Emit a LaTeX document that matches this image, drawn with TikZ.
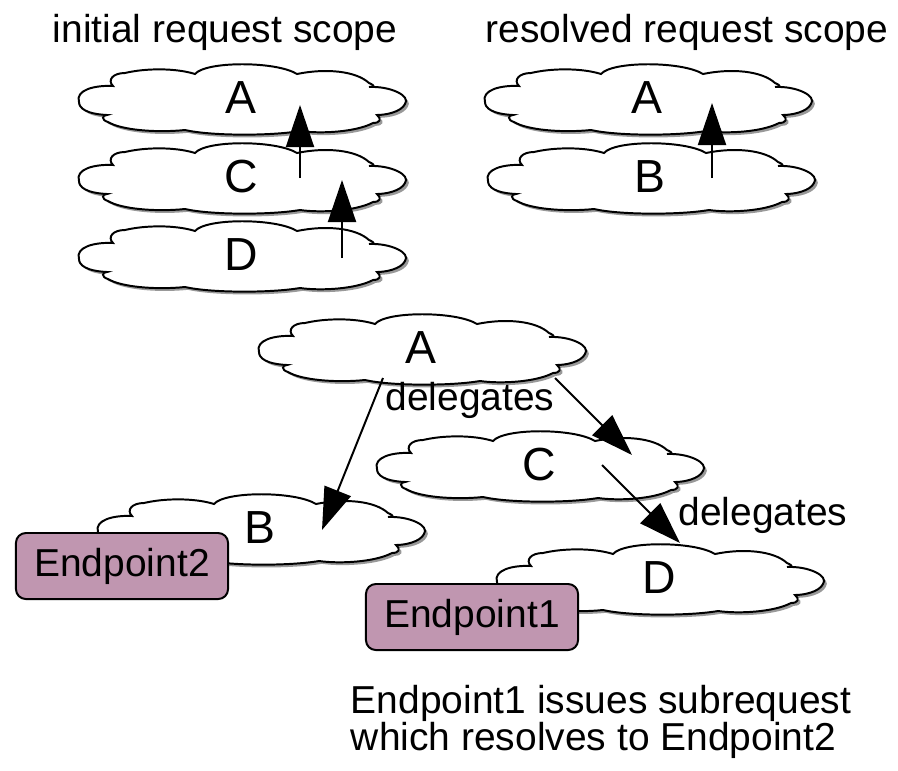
\documentclass[tikz,border=0pt]{standalone}
\usepackage{fontspec}
\setmainfont{Liberation Sans}
\usetikzlibrary{shadows,arrows.meta,calc}
\definecolor{epFill}{RGB}{192,150,176}

\begin{document}
\begin{tikzpicture}[x=0.025cm,y=-0.025cm,>={Triangle[length=30pt,width=20pt]},
  cloudline/.style={draw,fill=white,line width=1.4pt,
    drop shadow={shadow xshift=2pt,shadow yshift=-2pt,fill=gray!80,opacity=1}},
  scopecloud/.pic={
    \path[cloudline] (-162,4)
      .. controls (-166,-8) and (-146,-13) .. (-128,-12)
      .. controls (-134,-18) and (-128,-25) .. (-116,-25)
      .. controls (-95,-30) and (-65,-30) .. (-46,-24)
      .. controls (-35,-37) and (35,-37) .. (56,-24)
      .. controls (85,-30) and (115,-27) .. (128,-15)
      .. controls (135,-12) and (133,-11) .. (128,-11)
      .. controls (150,-12) and (170,-2) .. (164,6)
      .. controls (160,14) and (145,17) .. (136,17)
      .. controls (141,21) and (139,25) .. (132,25)
      .. controls (115,34) and (80,36) .. (59,33)
      .. controls (30,38) and (-30,38) .. (-56,32)
      .. controls (-85,35) and (-120,32) .. (-133,24)
      .. controls (-140,22) and (-139,17) .. (-134,17)
      .. controls (-155,16) and (-162,10) .. cycle;
  },
  cloudlbl/.style={font=\fontsize{33}{38}\selectfont},
  endpoint/.style={draw,fill=epFill,rounded corners=7pt,line width=1.4pt,
    minimum width=5.3cm,minimum height=1.65cm,font=\fontsize{27.7}{32}\selectfont},
  lbl/.style={font=\fontsize{27.7}{32}\selectfont},
  link/.style={->,line width=1.4pt}]
\useasboundingbox (0,0) rectangle (898,770);
% initial request scope
\node[lbl] (titleI) at (225,32) {initial request scope};
\pic at (241,255) {scopecloud};
\node[cloudlbl] (iD) at (241,255) {D};
\pic at (241,177) {scopecloud};
\node[cloudlbl] (iC) at (241,177) {C};
\pic at (241,98) {scopecloud};
\node[cloudlbl] (iA) at (241,98) {A};
\draw[link] ($(iC)+(59,1)$) -- ($(iA)+(59,7)$);
\draw[link] ($(iD)+(101,3)$) -- ($(iC)+(101,3)$);
% resolved request scope
\node[lbl] (titleR) at (687,32) {resolved request scope};
\pic at (650,177) {scopecloud};
\node[cloudlbl] (rB) at (650,177) {B};
\pic at (647,98) {scopecloud};
\node[cloudlbl] (rA) at (647,98) {A};
\draw[link] ($(rB)+(62,1)$) -- ($(rA)+(65,5)$);
% delegation
\pic at (659,578) {scopecloud};
\node[cloudlbl] (mD) at (659,578) {D};
\pic at (260,528) {scopecloud};
\node[cloudlbl] (mB) at (260,528) {B};
\pic at (539,465) {scopecloud};
\node[cloudlbl] (mC) at (539,465) {C};
\pic at (421,348) {scopecloud};
\node[cloudlbl] (mA) at (421,348) {A};
\node[endpoint] (ep2) at (122,566) {Endpoint2};
\node[endpoint] (ep1) at (472,617) {Endpoint1};
\draw[link] ($(mA)+(-38,30)$) -- ($(mB)+(62,2)$);
\draw[link] ($(mA)+(134,30)$) -- ($(mC)+(93,-10)$);
\draw[link] ($(mC)+(63,0)$) -- ($(mD)+(21,-35)$);
\node[lbl] (dlg1) at (470,400) {delegates};
\node[lbl] (dlg2) at (763,515) {delegates};
\node[lbl,anchor=west,align=left,font=\fontsize{27.7}{25}\selectfont] (note) at (346,722)
  {Endpoint1 issues subrequest\\which resolves to Endpoint2};
\end{tikzpicture}
\end{document}
